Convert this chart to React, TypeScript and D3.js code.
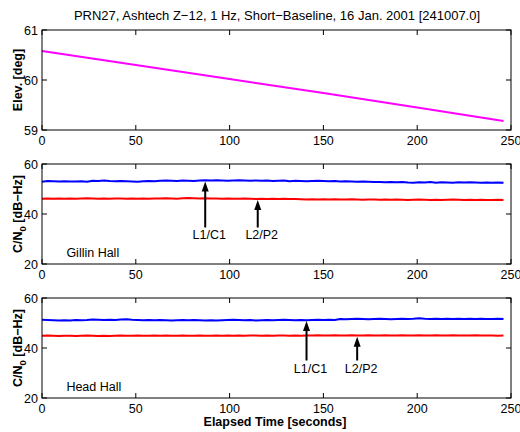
import React from "react";
import * as d3 from "d3";

const TITLE = "PRN27, Ashtech Z\u221212, 1 Hz, Short\u2212Baseline, 16 Jan. 2001 [241007.0]";
const X_LABEL = "Elapsed Time [seconds]";
const X_TICKS = [0, 50, 100, 150, 200, 250];
const ELEV_TICKS = [59, 60, 61];
const CN0_TICKS = [20, 40, 60];

// 1 Hz data sampled every 3 s (0..246 s)
const TIMES = d3.range(0, 247, 3);

const elevTimes = [0, 50, 100, 150, 200, 246];
const elevValues = [60.58, 60.3, 60.02, 59.74, 59.45, 59.18];

const gillinL1 = [
  52.9, 53.2, 53.1, 53.0, 53.1, 53.0, 53.0, 53.1, 52.9, 53.3,
  53.2, 53.4, 53.2, 53.1, 53.2, 53.1, 53.0, 52.9, 53.1, 53.2,
  53.1, 53.3, 53.4, 53.3, 53.2, 53.4, 53.3, 53.2, 53.4, 53.5,
  53.4, 53.5, 53.4, 53.3, 53.4, 53.5, 53.4, 53.3, 53.4, 53.3,
  53.4, 53.2, 53.3, 53.4, 53.1, 53.3, 53.2, 53.1, 53.2, 53.3,
  53.2, 53.1, 53.2, 53.0, 53.1, 53.0, 52.9, 53.0, 52.9, 52.8,
  52.8, 52.7, 52.8, 52.7, 52.8, 52.6, 52.5, 52.7, 52.6, 52.8,
  52.5, 52.7, 52.6, 52.5, 52.7, 52.6, 52.7, 52.6, 52.5, 52.6,
  52.5, 52.6, 52.5,
];
const gillinL2 = [
  46.1, 46.2, 46.1, 46.2, 46.1, 46.2, 46.1, 46.2, 46.3, 46.2,
  46.1, 46.2, 46.1, 46.2, 46.2, 46.1, 46.2, 46.1, 46.2, 46.1,
  46.2, 46.2, 46.3, 46.2, 46.1, 46.3, 46.4, 46.3, 46.2, 46.3,
  46.2, 46.2, 46.1, 46.2, 46.1, 46.1, 46.2, 46.1, 46.0, 46.1,
  46.0, 46.1, 46.0, 46.1, 46.0, 46.0, 45.9, 45.8, 45.9, 45.8,
  45.9, 45.8, 45.9, 45.8, 45.8, 45.9, 45.8, 45.7, 45.8, 45.8,
  45.7, 45.8, 45.7, 45.8, 45.7, 45.6, 45.7, 45.8, 45.7, 45.6,
  45.7, 45.6, 45.7, 45.8, 45.7, 45.6, 45.7, 45.6, 45.7, 45.6,
  45.6, 45.7, 45.6,
];
const headL1 = [
  51.3, 51.2, 51.1, 51.0, 51.1, 51.0, 51.2, 51.1, 51.2, 51.4,
  51.3, 51.2, 51.3, 51.2, 51.4, 51.5, 51.3, 51.2, 51.1, 51.2,
  51.1, 51.2, 51.1, 51.0, 51.1, 51.2, 51.1, 51.2, 51.1, 51.0,
  51.1, 51.0, 51.1, 51.2, 51.3, 51.2, 51.1, 51.2, 51.0, 51.1,
  51.2, 51.1, 51.2, 51.3, 51.2, 51.1, 51.2, 51.1, 51.2, 51.3,
  51.2, 51.3, 51.2, 51.6, 51.5, 51.6, 51.7, 51.6, 51.5, 51.6,
  51.7, 51.6, 51.5, 51.6, 51.7, 51.6, 51.7, 51.9, 51.7, 51.6,
  51.7, 51.6, 51.7, 51.6, 51.7, 51.6, 51.7, 51.6, 51.7, 51.6,
  51.6, 51.7, 51.6,
];
const headL2 = [
  44.9, 45.0, 44.9, 44.8, 44.9, 44.9, 44.8, 44.9, 45.0, 44.9,
  44.8, 44.9, 44.8, 44.9, 45.0, 44.9, 44.9, 45.0, 44.9, 44.9,
  45.0, 44.9, 45.0, 44.9, 44.9, 45.0, 44.9, 44.9, 45.0, 44.9,
  44.9, 45.0, 44.9, 45.0, 44.9, 45.0, 44.9, 45.0, 45.0, 44.9,
  45.0, 44.9, 45.0, 45.0, 44.9, 45.0, 44.9, 45.0, 45.0, 45.1,
  45.0, 45.0, 45.1, 45.0, 45.0, 45.1, 45.0, 45.0, 45.1, 45.0,
  45.0, 45.1, 45.0, 45.0, 45.1, 45.0, 45.0, 45.1, 45.0, 45.0,
  45.1, 45.0, 45.0, 45.1, 45.0, 45.0, 45.0, 45.1, 45.0, 45.0,
  45.0, 44.9, 45.0,
];

const gillinArrows = [
  { label: "L1/C1", t: 87, tip: 53.0, tail: 34.6, text: 29.9 },
  { label: "L2/P2", t: 115, tip: 45.6, tail: 34.6, text: 29.9 },
];
const headArrows = [
  { label: "L1/C1", t: 141, tip: 50.8, tail: 35.0, text: 29.9 },
  { label: "L2/P2", t: 168, tip: 44.5, tail: 35.0, text: 29.9 },
];

const FONT = "'Liberation Sans', Arial, Helvetica, sans-serif";
const W = 520;
const H = 432;
const LEFT = 42;
const RIGHT = 511;
const PH = 100;

const xScale = d3.scaleLinear().domain([0, 250]).range([LEFT, RIGHT]);

type Arrow = { label: string; t: number; tip: number; tail: number; text: number };

function Panel(props: {
  top: number;
  domain: [number, number];
  ticks: number[];
  series: { times: number[]; values: number[]; color: string }[];
  ylabel: React.ReactNode;
  site?: string;
  arrows?: Arrow[];
}) {
  const { top, domain, ticks, series, ylabel, site, arrows } = props;
  const y = d3.scaleLinear().domain(domain).range([top + PH, top]);
  const line = d3
    .line<[number, number]>()
    .x((d) => xScale(d[0]))
    .y((d) => y(d[1]));
  const TL = 5;
  return (
    <g>
      {series.map((s, i) => (
        <path
          key={i}
          d={line(s.times.map((t, j) => [t, s.values[j]] as [number, number])) || ""}
          fill="none"
          stroke={s.color}
          strokeWidth={2}
          strokeLinejoin="round"
        />
      ))}
      <rect x={LEFT} y={top} width={RIGHT - LEFT} height={PH} fill="none" stroke="#000" strokeWidth={1} />
      {X_TICKS.map((t) => (
        <g key={"x" + t}>
          <line x1={xScale(t)} x2={xScale(t)} y1={top + PH} y2={top + PH - TL} stroke="#000" />
          <line x1={xScale(t)} x2={xScale(t)} y1={top} y2={top + TL} stroke="#000" />
          <text x={xScale(t)} y={top + PH + 15} textAnchor="middle" fontSize={12.5} fontFamily={FONT}>
            {t}
          </text>
        </g>
      ))}
      {ticks.map((v) => (
        <g key={"y" + v}>
          <line x1={LEFT} x2={LEFT + TL} y1={y(v)} y2={y(v)} stroke="#000" />
          <line x1={RIGHT} x2={RIGHT - TL} y1={y(v)} y2={y(v)} stroke="#000" />
          <text x={LEFT - 4} y={y(v) + 4.5} textAnchor="end" fontSize={12.5} fontFamily={FONT}>
            {v}
          </text>
        </g>
      ))}
      <text
        transform={`translate(22,${top + PH / 2}) rotate(-90)`}
        textAnchor="middle"
        fontSize={12.5}
        fontWeight="bold"
        fontFamily={FONT}
      >
        {ylabel}
      </text>
      {site && (
        <text x={xScale(13)} y={y(23)} fontSize={12.5} fontFamily={FONT}>
          {site}
        </text>
      )}
      {arrows &&
        arrows.map((a, i) => {
          const x = xScale(a.t);
          const yt = y(a.tip);
          const yb = y(a.tail);
          return (
            <g key={i}>
              <line x1={x} x2={x} y1={yt + 8} y2={yb} stroke="#000" strokeWidth={2} />
              <path d={`M${x},${yt} L${x - 3.5},${yt + 10} L${x + 3.5},${yt + 10} Z`} fill="#000" />
              <text x={x + 4} y={y(a.text)} textAnchor="middle" fontSize={12.5} fontFamily={FONT}>
                {a.label}
              </text>
            </g>
          );
        })}
    </g>
  );
}

const CN0_MAIN = "C/N";
const CN0_SUB = "0";
const CN0_UNIT = " [dB\u2212Hz]";

export default function App() {
  const cn0 = (
    <>
      <tspan>{CN0_MAIN}</tspan>
      <tspan dy={4} fontSize={9.5}>{CN0_SUB}</tspan>
      <tspan dy={-4}>{CN0_UNIT}</tspan>
    </>
  );
  return (
    <svg
      width={W}
      height={H}
      style={{ position: "absolute", left: 0, top: 0, background: "#fff" }}
    >
      <rect width={W} height={H} fill="#fff" />
      <text x={277} y={20} textAnchor="middle" fontSize={13} fontFamily={FONT}>
        {TITLE}
      </text>
      <Panel
        top={30}
        domain={[59, 61]}
        ticks={ELEV_TICKS}
        series={[{ times: elevTimes, values: elevValues, color: "#ff00ff" }]}
        ylabel="Elev. [deg]"
      />
      <Panel
        top={164}
        domain={[20, 60]}
        ticks={CN0_TICKS}
        series={[
          { times: TIMES, values: gillinL1, color: "#0000ff" },
          { times: TIMES, values: gillinL2, color: "#ff0000" },
        ]}
        ylabel={cn0}
        site="Gillin Hall"
        arrows={gillinArrows}
      />
      <Panel
        top={298}
        domain={[20, 60]}
        ticks={CN0_TICKS}
        series={[
          { times: TIMES, values: headL1, color: "#0000ff" },
          { times: TIMES, values: headL2, color: "#ff0000" },
        ]}
        ylabel={cn0}
        site="Head Hall"
        arrows={headArrows}
      />
      <text x={275} y={426} textAnchor="middle" fontSize={12.5} fontWeight="bold" fontFamily={FONT}>
        {X_LABEL}
      </text>
    </svg>
  );
}
